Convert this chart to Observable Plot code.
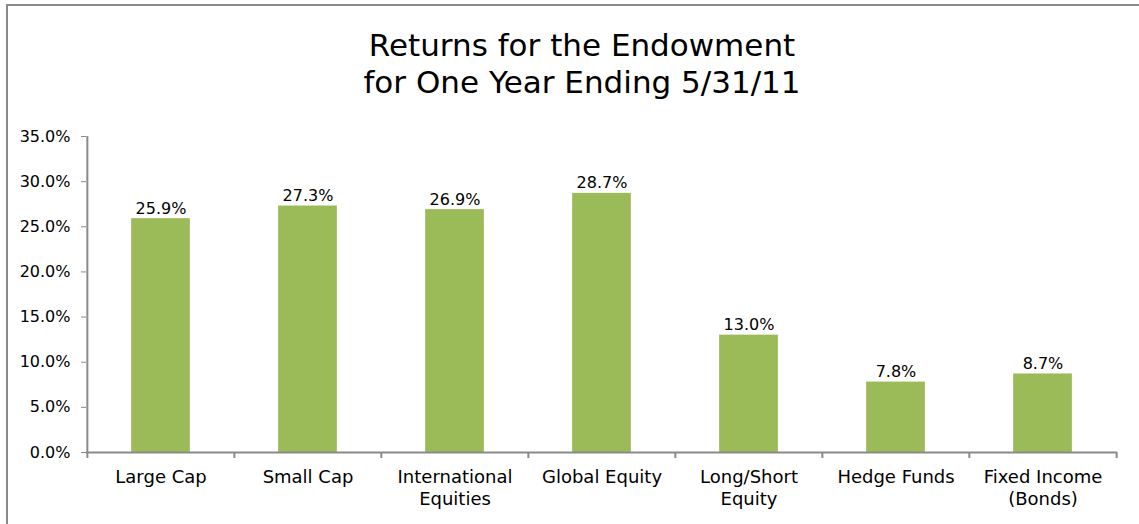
<!DOCTYPE html>
<html>
<head>
<meta charset="utf-8">
<script src="https://cdn.jsdelivr.net/npm/d3@7"></script>
<script src="https://cdn.jsdelivr.net/npm/@observablehq/plot@0.6"></script>
<style>
  html, body { margin: 0; padding: 0; background: #fff; overflow: hidden; }
  #wrap { position: relative; width: 1139px; height: 524px; overflow: hidden; font-family: "DejaVu Sans", sans-serif; }
  #border { position: absolute; left: 6px; top: 4px; width: 1200px; height: 600px; border: 2px solid #8a8a8a; box-sizing: border-box; }
  #title { position: absolute; left: 0; width: 1164px; top: 27px; text-align: center; font-size: 31px; line-height: 37px; color: #000; }
  #chart { position: absolute; left: 0; top: 0; }
</style>
</head>
<body>
<div id="wrap">
  <div id="border"></div>
  <div id="chart"></div>
  <div id="title">Returns for the Endowment<br>for One Year Ending 5/31/11</div>
</div>
<script>
const categories = ["Large Cap", "Small Cap", "International Equities", "Global Equity", "Long/Short Equity", "Hedge Funds", "Fixed Income (Bonds)"];
const tickLabels = ["Large Cap", "Small Cap", "International\nEquities", "Global Equity", "Long/Short\nEquity", "Hedge Funds", "Fixed Income\n(Bonds)"];
const returns = [25.9, 27.3, 26.9, 28.7, 13.0, 7.8, 8.7];
const yTicks = [0, 5, 10, 15, 20, 25, 30, 35];

const data = categories.map((c, i) => ({category: c, value: returns[i], label: tickLabels[i]}));

const W = 1139, H = 524;
const mL = 86, mR = 22, mT = 136, mB = 72;
const step = (W - mL - mR) / categories.length;
const barW = 59;
const inset = (step - barW) / 2;
const axisGray = "#8a8a8a";
const labelOf = new Map(data.map(d => [d.category, d.label]));

const chart = Plot.plot({
  width: W,
  height: H,
  marginLeft: mL,
  marginRight: mR,
  marginTop: mT,
  marginBottom: mB,
  style: {fontFamily: "DejaVu Sans, sans-serif", fontSize: "16px", color: "#000", background: "transparent"},
  x: {type: "band", domain: categories, padding: 0},
  y: {domain: [0, 35]},
  marks: [
    Plot.barY(data, {x: "category", y: "value", fill: "#9BBB59", insetLeft: inset, insetRight: inset}),
    Plot.text(data, {x: "category", y: "value", text: d => d.value.toFixed(1) + "%", lineAnchor: "bottom", dy: -5, fontSize: 16, fill: "#000"}),
    Plot.axisY({ticks: yTicks, tickFormat: d => d.toFixed(1) + "%", tickSize: 5, tickPadding: 11, stroke: axisGray, strokeOpacity: 1, label: null, fontSize: 16, fill: "#000"}),
    Plot.axisX({tickSize: 0, tickPadding: 15, tickFormat: d => labelOf.get(d), label: null, fontSize: 18, lineHeight: 1.22, fill: "#000"}),
    Plot.ruleY([0], {stroke: axisGray, strokeWidth: 2}),
    Plot.ruleX([0], {x: () => categories[0], y1: 0, y2: 35, dx: -step / 2, stroke: axisGray, strokeWidth: 2}),
    Plot.ruleX(categories, {x: d => d, y1: 0, y2: 0, insetBottom: -6, dx: -step / 2, stroke: axisGray, strokeWidth: 2}),
    Plot.ruleX([categories[categories.length - 1]], {x: d => d, y1: 0, y2: 0, insetBottom: -6, dx: step / 2, stroke: axisGray, strokeWidth: 2})
  ]
});
document.getElementById("chart").appendChild(chart);
</script>
</body>
</html>
